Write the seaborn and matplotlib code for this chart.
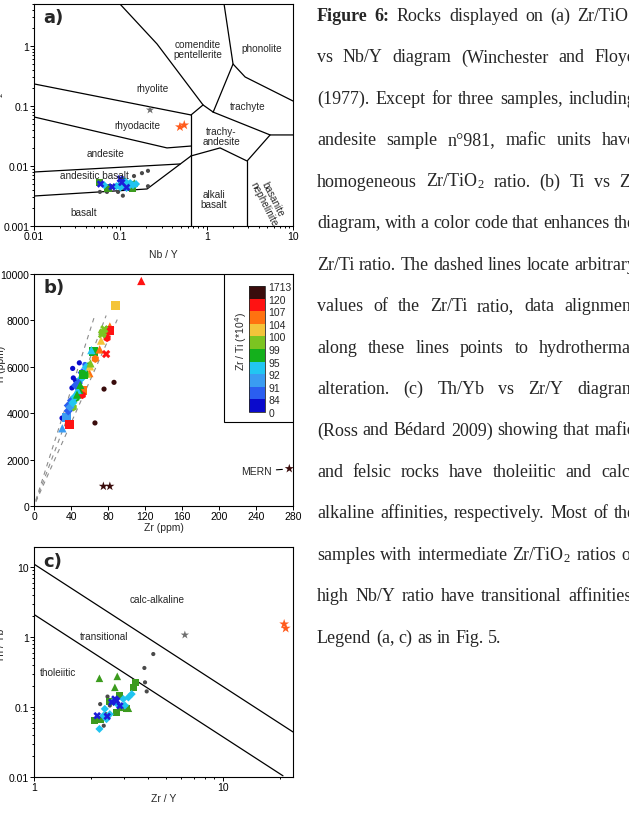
import numpy as np
import pandas as pd
import matplotlib
matplotlib.use("Agg")
import matplotlib.pyplot as plt
from matplotlib.colors import ListedColormap, BoundaryNorm
from matplotlib.cm import ScalarMappable
from matplotlib.patches import Rectangle
from matplotlib.ticker import FuncFormatter, LogLocator, NullFormatter, MultipleLocator
import seaborn as sns

# ---------------- panel a : Zr/TiO2 vs Nb/Y ----------------
A_GREY_NBY = [0.144, 0.178, 0.209, 0.209, 0.107, 0.094, 0.058, 0.070]
A_GREY_ZRTI = [0.0068, 0.0076, 0.0083, 0.0046, 0.0032, 0.0037, 0.0037, 0.0037]
A_GREEN_SQ_NBY = [0.057, 0.13, 0.14, 0.072, 0.11]
A_GREEN_SQ_ZRTI = [0.0053, 0.0050, 0.0043, 0.0043, 0.0047]
A_GREEN_TRI_NBY = [0.115, 0.145]
A_GREEN_TRI_ZRTI = [0.0046, 0.0052]
A_CYAN_NBY = [0.065, 0.09, 0.10, 0.105, 0.11, 0.115, 0.12, 0.125, 0.13, 0.14, 0.152, 0.10, 0.108, 0.118]
A_CYAN_ZRTI = [0.0048, 0.0046, 0.0050, 0.0054, 0.0047, 0.0055, 0.0049, 0.0046, 0.0052, 0.0048, 0.0050,
               0.0044, 0.0057, 0.0043]
A_BLUE_NBY = [0.059, 0.08, 0.10, 0.104, 0.118]
A_BLUE_ZRTI = [0.0050, 0.0045, 0.0061, 0.0053, 0.0044]
A_GREY_STAR_NBY = [0.221]
A_GREY_STAR_ZRTI = [0.086]
A_ORANGE_STAR_NBY = [0.49, 0.55]
A_ORANGE_STAR_ZRTI = [0.0447, 0.048]

# field boundaries (Nb/Y, Zr/TiO2)
A_BOUNDARIES = [
    [(0.099, 5.0), (0.266, 1.08), (0.908, 0.104), (1.19, 0.079)],
    [(1.59, 5.0), (2.02, 0.50), (1.19, 0.079)],
    [(2.02, 0.50), (2.79, 0.304), (10, 0.121)],
    [(1.19, 0.079), (5.43, 0.0329), (10, 0.0329)],
    [(0.659, 0.0708), (0.908, 0.104)],
    [(0.659, 0.001), (0.659, 0.0708)],
    [(0.01, 0.233), (0.659, 0.0708)],
    [(0.01, 0.0656), (0.347, 0.020), (0.659, 0.0215)],
    [(0.01, 0.00794), (0.492, 0.0108)],
    [(0.01, 0.00316), (0.204, 0.00414), (0.659, 0.0147)],
    [(0.659, 0.0147), (1.43, 0.020), (2.94, 0.0121), (5.43, 0.0329)],
    [(2.94, 0.001), (2.94, 0.0121)],
]
A_FIELDS = [
    ("comendite\npentellerite", 0.794, 0.89, 0),
    ("phonolite", 4.38, 0.93, 0),
    ("rhyolite", 0.233, 0.20, 0),
    ("trachyte", 3.02, 0.10, 0),
    ("rhyodacite", 0.156, 0.048, 0),
    ("trachy-\nandesite", 1.47, 0.0316, 0),
    ("andesite", 0.0666, 0.0165, 0),
    ("andesitic basalt", 0.0495, 0.0071, 0),
    ("alkali\nbasalt", 1.22, 0.0028, 0),
    ("basanite\nnephelinite", 5.14, 0.0026, -63),
    ("basalt", 0.038, 0.0017, 0),
]

# ---------------- panel b : Ti vs Zr ----------------
B_ZR = [116, 88, 82, 82, 79, 72.5, 74.5, 76, 73.5, 64, 62, 71, 78, 66.3,
        41.8, 49, 55, 42.5, 45, 41, 30.3,
        58.5, 59.8, 57.5, 52.2, 52.2, 50.5, 49, 45.4, 42.4, 37.1, 40.6, 35, 38.9, 30.6,
        75.7, 86.5, 65.9, 75, 82, 276,
        37, 39, 44, 47, 53, 55, 52, 48, 45, 56, 54, 46.5, 42, 50, 56.5, 60.5, 61]
B_TI = [9700, 8660, 7740, 7560, 7240, 7130, 7480, 7620, 7400, 6650, 6720, 6750, 6550, 6340,
        5930, 6170, 6100, 5520, 5400, 5090, 3790,
        6050, 5730, 5700, 4970, 4780, 5470, 5010, 4650, 4250, 4330, 4550, 3820, 3530, 3350,
        5040, 5330, 3580, 850, 850, 1612,
        4100, 4260, 4700, 5000, 5600, 5800, 5750, 5300, 5200, 5650, 5680, 4800, 4450, 5220, 5980, 6020, 6150]
B_MARKER = ["tri", "sq", "tri", "sq", "hex", "tri", "x", "x", "x", "sq", "tri", "tri", "x", "hex",
            "dot", "dot", "dot", "dot", "dot", "dot", "dot",
            "tri", "tri", "tri", "sq", "hex", "dia", "tri", "hex", "hex", "dia", "dia", "sq", "sq", "tri",
            "dot", "dot", "dot", "star", "star", "star",
            "dia", "dia", "dia", "tri", "dia", "tri", "dia", "dia", "dia", "hex", "sq", "tri", "dia", "tri",
            "dia", "tri", "tri"]
B_BOUNDS = [0, 84, 91, 92, 95, 99, 100, 104, 107, 120, 1713]
B_COLORS = ["#0a0acc", "#2a5ef0", "#3a9cf2", "#22c6f2", "#14b01c",
            "#7cc421", "#f4c43a", "#ff7210", "#ff1212", "#3a0c0c"]
B_GUIDE_RATIO = [80, 95, 112]      # Zr/Ti (*10^4) of dashed guides
B_GUIDE_ZR_END = [66, 78, 90]

# ---------------- panel c : Th/Yb vs Zr/Y ----------------
C_GREY_ZRY = [4.28, 3.84, 3.87, 3.95, 2.45, 2.52, 2.40, 2.34, 2.24]
C_GREY_THYB = [0.571, 0.361, 0.225, 0.167, 0.141, 0.105, 0.079, 0.054, 0.11]
C_GREEN_TRI_ZRY = [2.22, 2.76, 2.68, 3.16, 2.85]
C_GREEN_TRI_THYB = [0.257, 0.274, 0.191, 0.096, 0.099]
C_GREEN_SQ_ZRY = [2.10, 2.25, 2.83, 3.46, 3.36, 2.72, 3.09, 2.52]
C_GREEN_SQ_THYB = [0.064, 0.067, 0.145, 0.225, 0.19, 0.084, 0.094, 0.119]
C_CYAN_ZRY = [2.22, 3.29, 2.97, 2.76, 2.52, 2.37, 2.63, 3.03, 3.16, 2.42, 2.33]
C_CYAN_THYB = [0.0486, 0.153, 0.130, 0.110, 0.079, 0.094, 0.119, 0.105, 0.137, 0.067, 0.075]
C_BLUE_ZRY = [2.16, 2.58, 2.74, 2.85, 2.44, 2.68]
C_BLUE_THYB = [0.075, 0.117, 0.123, 0.104, 0.0735, 0.13]
C_GREY_STAR_ZRY = [6.29]
C_GREY_STAR_THYB = [1.07]
C_ORANGE_STAR_ZRY = [21.1, 21.5]
C_ORANGE_STAR_THYB = [1.53, 1.33]
C_BOUNDARIES = [
    [(1, 11.0), (23.5, 0.044)],
    [(1, 2.1), (20.8, 0.0104)],
]
C_FIELDS = [("calc-alkaline", 4.47, 3.49), ("transitional", 2.35, 1.03), ("tholeiitic", 1.34, 0.316)]

CAPTION_LINES = [
    "Figure 6: Rocks displayed on (a) Zr/TiO$_2$",
    "vs Nb/Y diagram (Winchester and Floyd",
    "(1977). Except for three samples, including",
    "andesite sample n°981, mafic units have",
    "homogeneous Zr/TiO$_2$ ratio. (b) Ti vs Zr",
    "diagram, with a color code that enhances the",
    "Zr/Ti ratio. The dashed lines locate arbitrary",
    "values of the Zr/Ti ratio, data alignment",
    "along these lines points to hydrothermal",
    "alteration. (c)  Th/Yb vs Zr/Y diagram",
    "(Ross and Bédard 2009) showing that mafic",
    "and felsic rocks have tholeiitic and calc-",
    "alkaline affinities, respectively. Most of the",
    "samples with intermediate Zr/TiO$_2$ ratios or",
    "high Nb/Y ratio have transitional affinities.",
    "Legend (a, c) as in Fig. 5.",
]

GROUP_STYLE = {
    "grey": ("o", "#4a4a4a", 9),
    "green_sq": ("s", "#3c9b1e", 26),
    "green_tri": ("^", "#3c9b1e", 30),
    "cyan": ("D", "#20c4f0", 17),
    "blue_x": ("X", "#1c1cd8", 30),
    "grey_star": ("*", "#6e6e6e", 40),
    "orange_star": ("*", "#ff5b1c", 55),
}
B_MARKER_STYLE = {"dot": ("o", 14), "sq": ("s", 42), "tri": ("^", 36), "hex": ("h", 34),
                  "x": ("X", 36), "star": ("*", 48), "dia": ("D", 22)}

sns.set_style("ticks")
plt.rcParams["font.family"] = ["Liberation Sans", "DejaVu Sans"]
plt.rcParams["mathtext.fontset"] = "custom"
plt.rcParams["mathtext.rm"] = "Liberation Serif"
plt.rcParams["mathtext.it"] = "Liberation Serif:italic"
plt.rcParams["mathtext.bf"] = "Liberation Serif:bold"

W, H = 629, 820
fig = plt.figure(figsize=(W / 100, H / 100), dpi=100)
fig.patch.set_facecolor("white")


def frac_box(left, top, right, bottom):
    return [left / W, 1 - bottom / H, (right - left) / W, (bottom - top) / H]


def style_axes(ax):
    for s in ax.spines.values():
        s.set_linewidth(0.8)
        s.set_color("black")
    ax.tick_params(which="both", direction="out", top=False, right=False, color="black",
                   width=0.7, labelsize=7.5, labelcolor="black", pad=0.8)
    ax.tick_params(which="major", length=2.6)
    ax.tick_params(which="minor", length=1.6)


def log_axis(axis):
    axis.set_major_locator(LogLocator(base=10))
    axis.set_minor_locator(LogLocator(base=10, subs=np.arange(2, 10)))
    axis.set_major_formatter(FuncFormatter(lambda v, p: f"{v:g}"))
    axis.set_minor_formatter(NullFormatter())


def geo_scatter(ax, groups):
    rows = []
    for name, xs, ys in groups:
        rows += [{"x": a, "y": b, "g": name} for a, b in zip(xs, ys)]
    df = pd.DataFrame(rows)
    sns.scatterplot(data=df, x="x", y="y", hue="g", style="g", size="g",
                    palette={k: v[1] for k, v in GROUP_STYLE.items()},
                    markers={k: v[0] for k, v in GROUP_STYLE.items()},
                    sizes={k: v[2] for k, v in GROUP_STYLE.items()},
                    linewidth=0, legend=False, ax=ax, zorder=3)


def panel_label(ax, txt, y):
    ax.text(0.035, y, txt, transform=ax.transAxes, fontsize=13, weight="bold",
            family="DejaVu Sans", ha="left", va="center")


# ---- a ----
ax_a = fig.add_axes(frac_box(34, 5, 293, 227))
for line in A_BOUNDARIES:
    xs, ys = zip(*line)
    ax_a.plot(xs, ys, color="black", lw=0.9, zorder=2)
geo_scatter(ax_a, [
    ("grey", A_GREY_NBY, A_GREY_ZRTI),
    ("green_sq", A_GREEN_SQ_NBY, A_GREEN_SQ_ZRTI),
    ("green_tri", A_GREEN_TRI_NBY, A_GREEN_TRI_ZRTI),
    ("cyan", A_CYAN_NBY, A_CYAN_ZRTI),
    ("blue_x", A_BLUE_NBY, A_BLUE_ZRTI),
    ("grey_star", A_GREY_STAR_NBY, A_GREY_STAR_ZRTI),
    ("orange_star", A_ORANGE_STAR_NBY, A_ORANGE_STAR_ZRTI),
])
ax_a.set_xscale("log")
ax_a.set_yscale("log")
ax_a.set_xlim(0.01, 10)
ax_a.set_ylim(0.001, 5)
log_axis(ax_a.xaxis)
log_axis(ax_a.yaxis)
for txt, x, y, rot in A_FIELDS:
    ax_a.text(x, y, txt, fontsize=7.2, ha="center", va="center", rotation=rot,
              linespacing=1.0, zorder=4)
style_axes(ax_a)
ax_a.set_xlabel("Nb / Y", fontsize=7.5, labelpad=6)
ax_a.set_ylabel("")
panel_label(ax_a, "a)", 0.941)
fig.text(6 / W, 1 - 95 / H, "Zr / TiO$_2$ x 10$^{-4}$", rotation=90, ha="right", va="center",
         fontsize=7.5, math_fontfamily="dejavusans")

# ---- b ----
ax_b = fig.add_axes(frac_box(34, 275, 293, 507))
for ratio, zr_end in zip(B_GUIDE_RATIO, B_GUIDE_ZR_END):
    zr = np.array([2.0, zr_end])
    ax_b.plot(zr, zr * 1e4 / ratio, color="#8c8c8c", lw=0.8, ls=(0, (4, 4)), zorder=1)
bins = [f"{lo}-{hi}" for lo, hi in zip(B_BOUNDS[:-1], B_BOUNDS[1:])]
df_b = pd.DataFrame({"zr": B_ZR, "ti": B_TI, "mk": B_MARKER})
df_b["ratio"] = df_b["zr"] / df_b["ti"] * 1e4
df_b["cls"] = pd.cut(df_b["ratio"], bins=B_BOUNDS, labels=bins).astype(str)
sns.scatterplot(data=df_b, x="zr", y="ti", hue="cls", style="mk", size="mk",
                palette=dict(zip(bins, B_COLORS)),
                markers={k: v[0] for k, v in B_MARKER_STYLE.items()},
                sizes={k: v[1] for k, v in B_MARKER_STYLE.items()},
                linewidth=0, legend=False, ax=ax_b, zorder=3)
ax_b.set_xlim(0, 280)
ax_b.set_ylim(0, 10000)
ax_b.xaxis.set_major_locator(MultipleLocator(40))
ax_b.yaxis.set_major_locator(MultipleLocator(2000))
style_axes(ax_b)
ax_b.set_xlabel("Zr (ppm)", fontsize=7.5, labelpad=1)
ax_b.set_ylabel("")
ax_b.annotate("MERN", xy=(273, 1590), xytext=(257, 1500), ha="right", va="center", fontsize=7.5,
              arrowprops=dict(arrowstyle="-", lw=0.8, color="black", shrinkA=1, shrinkB=3))
panel_label(ax_b, "b)", 0.944)
fig.text(6 / W, 1 - 365 / H, "Ti (ppm)", rotation=90, ha="right", va="center", fontsize=7.5)
ax_b.add_patch(Rectangle((0.734, 0.362), 0.266, 0.638, transform=ax_b.transAxes,
                         facecolor="white", edgecolor="black", lw=0.8, zorder=5))

cax = fig.add_axes(frac_box(249, 287, 265, 413))
cmap = ListedColormap(B_COLORS)
norm = BoundaryNorm(B_BOUNDS, cmap.N)
cb = fig.colorbar(ScalarMappable(norm=norm, cmap=cmap), cax=cax, ticks=B_BOUNDS, spacing="uniform")
cb.ax.set_yticklabels([str(b) for b in B_BOUNDS])
cb.ax.tick_params(labelsize=7.5, length=0, pad=2.5)
cb.outline.set_linewidth(0.6)
cax.set_zorder(6)
fig.text(241 / W, 1 - 342 / H, "Zr / Ti (*10$^4$)", rotation=90, ha="center", va="center",
         fontsize=7.5, math_fontfamily="dejavusans", zorder=7)

# ---- c ----
ax_c = fig.add_axes(frac_box(34, 548, 293, 778))
for line in C_BOUNDARIES:
    xs, ys = zip(*line)
    ax_c.plot(xs, ys, color="black", lw=0.9, zorder=2)
geo_scatter(ax_c, [
    ("grey", C_GREY_ZRY, C_GREY_THYB),
    ("green_tri", C_GREEN_TRI_ZRY, C_GREEN_TRI_THYB),
    ("green_sq", C_GREEN_SQ_ZRY, C_GREEN_SQ_THYB),
    ("cyan", C_CYAN_ZRY, C_CYAN_THYB),
    ("blue_x", C_BLUE_ZRY, C_BLUE_THYB),
    ("grey_star", C_GREY_STAR_ZRY, C_GREY_STAR_THYB),
    ("orange_star", C_ORANGE_STAR_ZRY, C_ORANGE_STAR_THYB),
])
ax_c.set_xscale("log")
ax_c.set_yscale("log")
ax_c.set_xlim(1, 23.5)
ax_c.set_ylim(0.01, 19.3)
log_axis(ax_c.xaxis)
log_axis(ax_c.yaxis)
for txt, x, y in C_FIELDS:
    ax_c.text(x, y, txt, fontsize=7.2, ha="center", va="center", zorder=4)
style_axes(ax_c)
ax_c.set_xlabel("Zr / Y", fontsize=7.5, labelpad=1)
ax_c.set_ylabel("")
panel_label(ax_c, "c)", 0.939)
fig.text(6 / W, 1 - 645 / H, "Th / Yb", rotation=90, ha="right", va="center", fontsize=7.5)

# ---- caption, justified like the source page ----
CAP_LEFT, CAP_RIGHT, CAP_BASE, CAP_STEP = 317, 636, 21, 41.45
renderer = fig.canvas.get_renderer()
for i, line in enumerate(CAPTION_LINES):
    words = line.split()
    y = 1 - (CAP_BASE + i * CAP_STEP) / H
    texts = []
    for j, w in enumerate(words):
        bold = i == 0 and j < 2
        texts.append(fig.text(0, y, w, fontsize=13, family="Liberation Serif",
                              weight="bold" if bold else "normal", ha="left", va="baseline"))
    widths = [t.get_window_extent(renderer).width for t in texts]
    if i == len(CAPTION_LINES) - 1:
        gap = 0.25 * 13 * 100 / 72
    else:
        gap = (CAP_RIGHT - CAP_LEFT - sum(widths)) / (len(words) - 1)
    x = CAP_LEFT
    for t, w in zip(texts, widths):
        t.set_x(x / W)
        x += w + gap

fig.savefig("out.png", dpi=100, facecolor="white")
